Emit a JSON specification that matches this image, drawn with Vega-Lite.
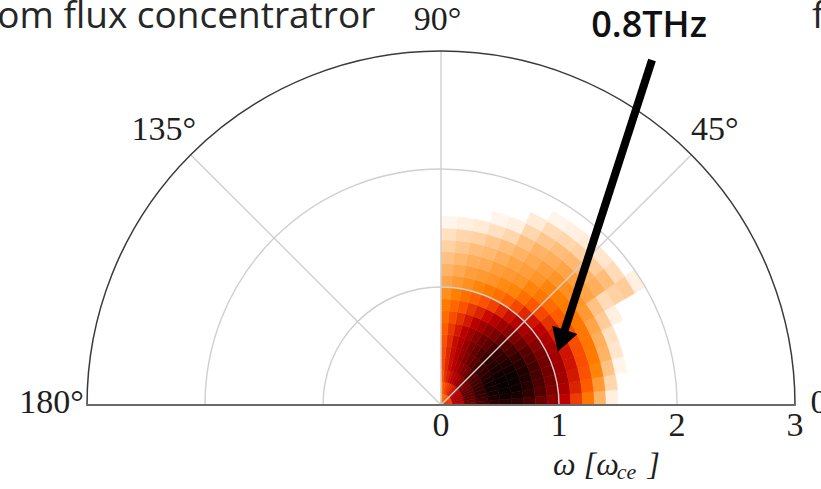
{
  "$schema": "https://vega.github.io/schema/vega-lite/v6.json",
  "width": 821,
  "height": 489,
  "autosize": {"type": "none"},
  "padding": 0,
  "background": "white",
  "config": {"view": {"stroke": null}},
  "datasets": {
    "cells": [
      {"a":0,"b":5,"r":0,"s":0.1,"v":0.34},{"a":0,"b":5,"r":0.1,"s":0.2,"v":0.5},{"a":0,"b":5,"r":0.2,"s":0.3,"v":0.7},{"a":0,"b":5,"r":0.3,"s":0.4,"v":0.8},{"a":0,"b":5,"r":0.4,"s":0.5,"v":0.87},{"a":0,"b":5,"r":0.5,"s":0.6,"v":0.9},{"a":0,"b":5,"r":0.6,"s":0.7,"v":0.88},{"a":0,"b":5,"r":0.7,"s":0.8,"v":0.82},{"a":0,"b":5,"r":0.8,"s":0.9,"v":0.72},{"a":0,"b":5,"r":0.9,"s":1.0,"v":0.62},{"a":0,"b":5,"r":1.0,"s":1.1,"v":0.5},{"a":0,"b":5,"r":1.1,"s":1.2,"v":0.38},{"a":0,"b":5,"r":1.2,"s":1.3,"v":0.27},{"a":0,"b":5,"r":1.3,"s":1.4,"v":0.15},{"a":0,"b":5,"r":1.4,"s":1.5,"v":0.03},
      {"a":5,"b":10,"r":0,"s":0.1,"v":0.36},{"a":5,"b":10,"r":0.1,"s":0.2,"v":0.54},{"a":5,"b":10,"r":0.2,"s":0.3,"v":0.73},{"a":5,"b":10,"r":0.3,"s":0.4,"v":0.84},{"a":5,"b":10,"r":0.4,"s":0.5,"v":0.92},{"a":5,"b":10,"r":0.5,"s":0.6,"v":0.95},{"a":5,"b":10,"r":0.6,"s":0.7,"v":0.94},{"a":5,"b":10,"r":0.7,"s":0.8,"v":0.88},{"a":5,"b":10,"r":0.8,"s":0.9,"v":0.78},{"a":5,"b":10,"r":0.9,"s":1.0,"v":0.67},{"a":5,"b":10,"r":1.0,"s":1.1,"v":0.55},{"a":5,"b":10,"r":1.1,"s":1.2,"v":0.43},{"a":5,"b":10,"r":1.2,"s":1.3,"v":0.32},{"a":5,"b":10,"r":1.3,"s":1.4,"v":0.2},{"a":5,"b":10,"r":1.4,"s":1.5,"v":0.08},
      {"a":10,"b":15,"r":0,"s":0.1,"v":0.38},{"a":10,"b":15,"r":0.1,"s":0.2,"v":0.56},{"a":10,"b":15,"r":0.2,"s":0.3,"v":0.75},{"a":10,"b":15,"r":0.3,"s":0.4,"v":0.86},{"a":10,"b":15,"r":0.4,"s":0.5,"v":0.94},{"a":10,"b":15,"r":0.5,"s":0.6,"v":0.97},{"a":10,"b":15,"r":0.6,"s":0.7,"v":0.96},{"a":10,"b":15,"r":0.7,"s":0.8,"v":0.9},{"a":10,"b":15,"r":0.8,"s":0.9,"v":0.8},{"a":10,"b":15,"r":0.9,"s":1.0,"v":0.69},{"a":10,"b":15,"r":1.0,"s":1.1,"v":0.57},{"a":10,"b":15,"r":1.1,"s":1.2,"v":0.45},{"a":10,"b":15,"r":1.2,"s":1.3,"v":0.34},{"a":10,"b":15,"r":1.3,"s":1.4,"v":0.24},{"a":10,"b":15,"r":1.4,"s":1.5,"v":0.12},{"a":10,"b":15,"r":1.5,"s":1.6,"v":0.02},
      {"a":15,"b":20,"r":0,"s":0.1,"v":0.39},{"a":15,"b":20,"r":0.1,"s":0.2,"v":0.56},{"a":15,"b":20,"r":0.2,"s":0.3,"v":0.76},{"a":15,"b":20,"r":0.3,"s":0.4,"v":0.87},{"a":15,"b":20,"r":0.4,"s":0.5,"v":0.95},{"a":15,"b":20,"r":0.5,"s":0.6,"v":0.98},{"a":15,"b":20,"r":0.6,"s":0.7,"v":0.97},{"a":15,"b":20,"r":0.7,"s":0.8,"v":0.92},{"a":15,"b":20,"r":0.8,"s":0.9,"v":0.82},{"a":15,"b":20,"r":0.9,"s":1.0,"v":0.7},{"a":15,"b":20,"r":1.0,"s":1.1,"v":0.58},{"a":15,"b":20,"r":1.1,"s":1.2,"v":0.46},{"a":15,"b":20,"r":1.2,"s":1.3,"v":0.35},{"a":15,"b":20,"r":1.3,"s":1.4,"v":0.26},{"a":15,"b":20,"r":1.4,"s":1.5,"v":0.15},{"a":15,"b":20,"r":1.5,"s":1.6,"v":0.05},
      {"a":20,"b":25,"r":0,"s":0.1,"v":0.39},{"a":20,"b":25,"r":0.1,"s":0.2,"v":0.56},{"a":20,"b":25,"r":0.2,"s":0.3,"v":0.76},{"a":20,"b":25,"r":0.3,"s":0.4,"v":0.87},{"a":20,"b":25,"r":0.4,"s":0.5,"v":0.95},{"a":20,"b":25,"r":0.5,"s":0.6,"v":0.98},{"a":20,"b":25,"r":0.6,"s":0.7,"v":0.97},{"a":20,"b":25,"r":0.7,"s":0.8,"v":0.92},{"a":20,"b":25,"r":0.8,"s":0.9,"v":0.82},{"a":20,"b":25,"r":0.9,"s":1.0,"v":0.7},{"a":20,"b":25,"r":1.0,"s":1.1,"v":0.58},{"a":20,"b":25,"r":1.1,"s":1.2,"v":0.46},{"a":20,"b":25,"r":1.2,"s":1.3,"v":0.35},{"a":20,"b":25,"r":1.3,"s":1.4,"v":0.27},{"a":20,"b":25,"r":1.4,"s":1.5,"v":0.16},{"a":20,"b":25,"r":1.5,"s":1.6,"v":0.06},
      {"a":25,"b":30,"r":0,"s":0.1,"v":0.39},{"a":25,"b":30,"r":0.1,"s":0.2,"v":0.56},{"a":25,"b":30,"r":0.2,"s":0.3,"v":0.75},{"a":25,"b":30,"r":0.3,"s":0.4,"v":0.85},{"a":25,"b":30,"r":0.4,"s":0.5,"v":0.93},{"a":25,"b":30,"r":0.5,"s":0.6,"v":0.96},{"a":25,"b":30,"r":0.6,"s":0.7,"v":0.95},{"a":25,"b":30,"r":0.7,"s":0.8,"v":0.9},{"a":25,"b":30,"r":0.8,"s":0.9,"v":0.8},{"a":25,"b":30,"r":0.9,"s":1.0,"v":0.68},{"a":25,"b":30,"r":1.0,"s":1.1,"v":0.56},{"a":25,"b":30,"r":1.1,"s":1.2,"v":0.45},{"a":25,"b":30,"r":1.2,"s":1.3,"v":0.35},{"a":25,"b":30,"r":1.3,"s":1.4,"v":0.27},{"a":25,"b":30,"r":1.4,"s":1.5,"v":0.18},{"a":25,"b":30,"r":1.5,"s":1.6,"v":0.1},{"a":25,"b":30,"r":1.6,"s":1.7,"v":0.03},
      {"a":30,"b":35,"r":0,"s":0.1,"v":0.38},{"a":30,"b":35,"r":0.1,"s":0.2,"v":0.54},{"a":30,"b":35,"r":0.2,"s":0.3,"v":0.72},{"a":30,"b":35,"r":0.3,"s":0.4,"v":0.82},{"a":30,"b":35,"r":0.4,"s":0.5,"v":0.9},{"a":30,"b":35,"r":0.5,"s":0.6,"v":0.93},{"a":30,"b":35,"r":0.6,"s":0.7,"v":0.92},{"a":30,"b":35,"r":0.7,"s":0.8,"v":0.87},{"a":30,"b":35,"r":0.8,"s":0.9,"v":0.77},{"a":30,"b":35,"r":0.9,"s":1.0,"v":0.65},{"a":30,"b":35,"r":1.0,"s":1.1,"v":0.54},{"a":30,"b":35,"r":1.1,"s":1.2,"v":0.43},{"a":30,"b":35,"r":1.2,"s":1.3,"v":0.34},{"a":30,"b":35,"r":1.3,"s":1.4,"v":0.27},{"a":30,"b":35,"r":1.4,"s":1.5,"v":0.2},{"a":30,"b":35,"r":1.5,"s":1.6,"v":0.12},{"a":30,"b":35,"r":1.6,"s":1.7,"v":0.07},{"a":30,"b":35,"r":1.7,"s":1.8,"v":0.09},{"a":30,"b":35,"r":1.8,"s":1.9,"v":0.1},{"a":30,"b":35,"r":1.9,"s":2.0,"v":0.03},
      {"a":35,"b":40,"r":0,"s":0.1,"v":0.37},{"a":35,"b":40,"r":0.1,"s":0.2,"v":0.52},{"a":35,"b":40,"r":0.2,"s":0.3,"v":0.7},{"a":35,"b":40,"r":0.3,"s":0.4,"v":0.8},{"a":35,"b":40,"r":0.4,"s":0.5,"v":0.87},{"a":35,"b":40,"r":0.5,"s":0.6,"v":0.9},{"a":35,"b":40,"r":0.6,"s":0.7,"v":0.88},{"a":35,"b":40,"r":0.7,"s":0.8,"v":0.82},{"a":35,"b":40,"r":0.8,"s":0.9,"v":0.72},{"a":35,"b":40,"r":0.9,"s":1.0,"v":0.6},{"a":35,"b":40,"r":1.0,"s":1.1,"v":0.5},{"a":35,"b":40,"r":1.1,"s":1.2,"v":0.4},{"a":35,"b":40,"r":1.2,"s":1.3,"v":0.32},{"a":35,"b":40,"r":1.3,"s":1.4,"v":0.26},{"a":35,"b":40,"r":1.4,"s":1.5,"v":0.21},{"a":35,"b":40,"r":1.5,"s":1.6,"v":0.18},{"a":35,"b":40,"r":1.6,"s":1.7,"v":0.16},{"a":35,"b":40,"r":1.7,"s":1.8,"v":0.13},{"a":35,"b":40,"r":1.8,"s":1.9,"v":0.07},
      {"a":40,"b":45,"r":0,"s":0.1,"v":0.36},{"a":40,"b":45,"r":0.1,"s":0.2,"v":0.51},{"a":40,"b":45,"r":0.2,"s":0.3,"v":0.68},{"a":40,"b":45,"r":0.3,"s":0.4,"v":0.78},{"a":40,"b":45,"r":0.4,"s":0.5,"v":0.85},{"a":40,"b":45,"r":0.5,"s":0.6,"v":0.88},{"a":40,"b":45,"r":0.6,"s":0.7,"v":0.86},{"a":40,"b":45,"r":0.7,"s":0.8,"v":0.78},{"a":40,"b":45,"r":0.8,"s":0.9,"v":0.67},{"a":40,"b":45,"r":0.9,"s":1.0,"v":0.56},{"a":40,"b":45,"r":1.0,"s":1.1,"v":0.46},{"a":40,"b":45,"r":1.1,"s":1.2,"v":0.36},{"a":40,"b":45,"r":1.2,"s":1.3,"v":0.29},{"a":40,"b":45,"r":1.3,"s":1.4,"v":0.25},{"a":40,"b":45,"r":1.4,"s":1.5,"v":0.22},{"a":40,"b":45,"r":1.5,"s":1.6,"v":0.19},{"a":40,"b":45,"r":1.6,"s":1.7,"v":0.15},{"a":40,"b":45,"r":1.7,"s":1.8,"v":0.1},{"a":40,"b":45,"r":1.8,"s":1.9,"v":0.05},
      {"a":45,"b":50,"r":0,"s":0.1,"v":0.35},{"a":45,"b":50,"r":0.1,"s":0.2,"v":0.49},{"a":45,"b":50,"r":0.2,"s":0.3,"v":0.65},{"a":45,"b":50,"r":0.3,"s":0.4,"v":0.75},{"a":45,"b":50,"r":0.4,"s":0.5,"v":0.82},{"a":45,"b":50,"r":0.5,"s":0.6,"v":0.84},{"a":45,"b":50,"r":0.6,"s":0.7,"v":0.82},{"a":45,"b":50,"r":0.7,"s":0.8,"v":0.74},{"a":45,"b":50,"r":0.8,"s":0.9,"v":0.63},{"a":45,"b":50,"r":0.9,"s":1.0,"v":0.52},{"a":45,"b":50,"r":1.0,"s":1.1,"v":0.42},{"a":45,"b":50,"r":1.1,"s":1.2,"v":0.33},{"a":45,"b":50,"r":1.2,"s":1.3,"v":0.27},{"a":45,"b":50,"r":1.3,"s":1.4,"v":0.24},{"a":45,"b":50,"r":1.4,"s":1.5,"v":0.21},{"a":45,"b":50,"r":1.5,"s":1.6,"v":0.18},{"a":45,"b":50,"r":1.6,"s":1.7,"v":0.14},{"a":45,"b":50,"r":1.7,"s":1.8,"v":0.09},{"a":45,"b":50,"r":1.8,"s":1.9,"v":0.04},
      {"a":50,"b":55,"r":0,"s":0.1,"v":0.34},{"a":50,"b":55,"r":0.1,"s":0.2,"v":0.46},{"a":50,"b":55,"r":0.2,"s":0.3,"v":0.62},{"a":50,"b":55,"r":0.3,"s":0.4,"v":0.71},{"a":50,"b":55,"r":0.4,"s":0.5,"v":0.77},{"a":50,"b":55,"r":0.5,"s":0.6,"v":0.79},{"a":50,"b":55,"r":0.6,"s":0.7,"v":0.76},{"a":50,"b":55,"r":0.7,"s":0.8,"v":0.68},{"a":50,"b":55,"r":0.8,"s":0.9,"v":0.58},{"a":50,"b":55,"r":0.9,"s":1.0,"v":0.47},{"a":50,"b":55,"r":1.0,"s":1.1,"v":0.36},{"a":50,"b":55,"r":1.1,"s":1.2,"v":0.28},{"a":50,"b":55,"r":1.2,"s":1.3,"v":0.24},{"a":50,"b":55,"r":1.3,"s":1.4,"v":0.21},{"a":50,"b":55,"r":1.4,"s":1.5,"v":0.19},{"a":50,"b":55,"r":1.5,"s":1.6,"v":0.16},{"a":50,"b":55,"r":1.6,"s":1.7,"v":0.13},{"a":50,"b":55,"r":1.7,"s":1.8,"v":0.08},{"a":50,"b":55,"r":1.8,"s":1.9,"v":0.03},
      {"a":55,"b":60,"r":0,"s":0.1,"v":0.33},{"a":55,"b":60,"r":0.1,"s":0.2,"v":0.44},{"a":55,"b":60,"r":0.2,"s":0.3,"v":0.58},{"a":55,"b":60,"r":0.3,"s":0.4,"v":0.66},{"a":55,"b":60,"r":0.4,"s":0.5,"v":0.72},{"a":55,"b":60,"r":0.5,"s":0.6,"v":0.74},{"a":55,"b":60,"r":0.6,"s":0.7,"v":0.71},{"a":55,"b":60,"r":0.7,"s":0.8,"v":0.63},{"a":55,"b":60,"r":0.8,"s":0.9,"v":0.53},{"a":55,"b":60,"r":0.9,"s":1.0,"v":0.42},{"a":55,"b":60,"r":1.0,"s":1.1,"v":0.31},{"a":55,"b":60,"r":1.1,"s":1.2,"v":0.24},{"a":55,"b":60,"r":1.2,"s":1.3,"v":0.21},{"a":55,"b":60,"r":1.3,"s":1.4,"v":0.19},{"a":55,"b":60,"r":1.4,"s":1.5,"v":0.17},{"a":55,"b":60,"r":1.5,"s":1.6,"v":0.15},{"a":55,"b":60,"r":1.6,"s":1.7,"v":0.11},{"a":55,"b":60,"r":1.7,"s":1.8,"v":0.07},{"a":55,"b":60,"r":1.8,"s":1.9,"v":0.02},
      {"a":60,"b":65,"r":0,"s":0.1,"v":0.32},{"a":60,"b":65,"r":0.1,"s":0.2,"v":0.42},{"a":60,"b":65,"r":0.2,"s":0.3,"v":0.54},{"a":60,"b":65,"r":0.3,"s":0.4,"v":0.61},{"a":60,"b":65,"r":0.4,"s":0.5,"v":0.66},{"a":60,"b":65,"r":0.5,"s":0.6,"v":0.68},{"a":60,"b":65,"r":0.6,"s":0.7,"v":0.65},{"a":60,"b":65,"r":0.7,"s":0.8,"v":0.57},{"a":60,"b":65,"r":0.8,"s":0.9,"v":0.48},{"a":60,"b":65,"r":0.9,"s":1.0,"v":0.37},{"a":60,"b":65,"r":1.0,"s":1.1,"v":0.28},{"a":60,"b":65,"r":1.1,"s":1.2,"v":0.23},{"a":60,"b":65,"r":1.2,"s":1.3,"v":0.2},{"a":60,"b":65,"r":1.3,"s":1.4,"v":0.18},{"a":60,"b":65,"r":1.4,"s":1.5,"v":0.15},{"a":60,"b":65,"r":1.5,"s":1.6,"v":0.12},{"a":60,"b":65,"r":1.6,"s":1.7,"v":0.08},{"a":60,"b":65,"r":1.7,"s":1.8,"v":0.04},
      {"a":65,"b":70,"r":0,"s":0.1,"v":0.31},{"a":65,"b":70,"r":0.1,"s":0.2,"v":0.4},{"a":65,"b":70,"r":0.2,"s":0.3,"v":0.5},{"a":65,"b":70,"r":0.3,"s":0.4,"v":0.56},{"a":65,"b":70,"r":0.4,"s":0.5,"v":0.6},{"a":65,"b":70,"r":0.5,"s":0.6,"v":0.61},{"a":65,"b":70,"r":0.6,"s":0.7,"v":0.58},{"a":65,"b":70,"r":0.7,"s":0.8,"v":0.51},{"a":65,"b":70,"r":0.8,"s":0.9,"v":0.43},{"a":65,"b":70,"r":0.9,"s":1.0,"v":0.34},{"a":65,"b":70,"r":1.0,"s":1.1,"v":0.26},{"a":65,"b":70,"r":1.1,"s":1.2,"v":0.21},{"a":65,"b":70,"r":1.2,"s":1.3,"v":0.19},{"a":65,"b":70,"r":1.3,"s":1.4,"v":0.16},{"a":65,"b":70,"r":1.4,"s":1.5,"v":0.13},{"a":65,"b":70,"r":1.5,"s":1.6,"v":0.08},{"a":65,"b":70,"r":1.6,"s":1.7,"v":0.03},
      {"a":70,"b":75,"r":0,"s":0.1,"v":0.3},{"a":70,"b":75,"r":0.1,"s":0.2,"v":0.38},{"a":70,"b":75,"r":0.2,"s":0.3,"v":0.47},{"a":70,"b":75,"r":0.3,"s":0.4,"v":0.51},{"a":70,"b":75,"r":0.4,"s":0.5,"v":0.54},{"a":70,"b":75,"r":0.5,"s":0.6,"v":0.54},{"a":70,"b":75,"r":0.6,"s":0.7,"v":0.51},{"a":70,"b":75,"r":0.7,"s":0.8,"v":0.45},{"a":70,"b":75,"r":0.8,"s":0.9,"v":0.39},{"a":70,"b":75,"r":0.9,"s":1.0,"v":0.31},{"a":70,"b":75,"r":1.0,"s":1.1,"v":0.24},{"a":70,"b":75,"r":1.1,"s":1.2,"v":0.2},{"a":70,"b":75,"r":1.2,"s":1.3,"v":0.17},{"a":70,"b":75,"r":1.3,"s":1.4,"v":0.14},{"a":70,"b":75,"r":1.4,"s":1.5,"v":0.11},{"a":70,"b":75,"r":1.5,"s":1.6,"v":0.06},{"a":70,"b":75,"r":1.6,"s":1.7,"v":0.02},
      {"a":75,"b":80,"r":0,"s":0.1,"v":0.29},{"a":75,"b":80,"r":0.1,"s":0.2,"v":0.36},{"a":75,"b":80,"r":0.2,"s":0.3,"v":0.44},{"a":75,"b":80,"r":0.3,"s":0.4,"v":0.47},{"a":75,"b":80,"r":0.4,"s":0.5,"v":0.48},{"a":75,"b":80,"r":0.5,"s":0.6,"v":0.48},{"a":75,"b":80,"r":0.6,"s":0.7,"v":0.45},{"a":75,"b":80,"r":0.7,"s":0.8,"v":0.4},{"a":75,"b":80,"r":0.8,"s":0.9,"v":0.34},{"a":75,"b":80,"r":0.9,"s":1.0,"v":0.28},{"a":75,"b":80,"r":1.0,"s":1.1,"v":0.22},{"a":75,"b":80,"r":1.1,"s":1.2,"v":0.19},{"a":75,"b":80,"r":1.2,"s":1.3,"v":0.16},{"a":75,"b":80,"r":1.3,"s":1.4,"v":0.13},{"a":75,"b":80,"r":1.4,"s":1.5,"v":0.09},{"a":75,"b":80,"r":1.5,"s":1.6,"v":0.04},
      {"a":80,"b":85,"r":0,"s":0.1,"v":0.27},{"a":80,"b":85,"r":0.1,"s":0.2,"v":0.33},{"a":80,"b":85,"r":0.2,"s":0.3,"v":0.4},{"a":80,"b":85,"r":0.3,"s":0.4,"v":0.42},{"a":80,"b":85,"r":0.4,"s":0.5,"v":0.42},{"a":80,"b":85,"r":0.5,"s":0.6,"v":0.41},{"a":80,"b":85,"r":0.6,"s":0.7,"v":0.39},{"a":80,"b":85,"r":0.7,"s":0.8,"v":0.35},{"a":80,"b":85,"r":0.8,"s":0.9,"v":0.3},{"a":80,"b":85,"r":0.9,"s":1.0,"v":0.25},{"a":80,"b":85,"r":1.0,"s":1.1,"v":0.2},{"a":80,"b":85,"r":1.1,"s":1.2,"v":0.17},{"a":80,"b":85,"r":1.2,"s":1.3,"v":0.14},{"a":80,"b":85,"r":1.3,"s":1.4,"v":0.11},{"a":80,"b":85,"r":1.4,"s":1.5,"v":0.08},{"a":80,"b":85,"r":1.5,"s":1.6,"v":0.03},
      {"a":85,"b":90,"r":0,"s":0.1,"v":0.24},{"a":85,"b":90,"r":0.1,"s":0.2,"v":0.29},{"a":85,"b":90,"r":0.2,"s":0.3,"v":0.33},{"a":85,"b":90,"r":0.3,"s":0.4,"v":0.35},{"a":85,"b":90,"r":0.4,"s":0.5,"v":0.35},{"a":85,"b":90,"r":0.5,"s":0.6,"v":0.34},{"a":85,"b":90,"r":0.6,"s":0.7,"v":0.32},{"a":85,"b":90,"r":0.7,"s":0.8,"v":0.29},{"a":85,"b":90,"r":0.8,"s":0.9,"v":0.26},{"a":85,"b":90,"r":0.9,"s":1.0,"v":0.22},{"a":85,"b":90,"r":1.0,"s":1.1,"v":0.18},{"a":85,"b":90,"r":1.1,"s":1.2,"v":0.15},{"a":85,"b":90,"r":1.2,"s":1.3,"v":0.12},{"a":85,"b":90,"r":1.3,"s":1.4,"v":0.09},{"a":85,"b":90,"r":1.4,"s":1.5,"v":0.06},{"a":85,"b":90,"r":1.5,"s":1.6,"v":0.02}
    ],
    "rings": [{"a":0,"b":180,"s":1},{"a":0,"b":180,"s":2}],
    "outer": [{"a":0,"b":180,"s":3}],
    "spokes": [{"x0":0,"y0":0,"x":2.1213,"y":2.1213},{"x0":0,"y0":0,"x":0,"y":3},{"x0":0,"y0":0,"x":-2.1213,"y":2.1213}],
    "base": [{"x":-3,"y":0,"x2":3,"y2":0}],
    "angleLabels": [
      {"x":-3.30,"y":0.02,"t":"180°"},
      {"x":-2.35,"y":2.33,"t":"135°"},
      {"x":-0.03,"y":3.26,"t":"90°"},
      {"x":2.32,"y":2.33,"t":"45°"},
      {"x":3.26,"y":0.02,"t":"0°"},
      {"x":0,"y":-0.18,"t":"0"},
      {"x":1,"y":-0.18,"t":"1"},
      {"x":2,"y":-0.18,"t":"2"},
      {"x":3,"y":-0.18,"t":"3"}
    ],
    "titleMain": [{"x":0.95,"y":-0.51,"t":"ω [ω"},{"x":1.75,"y":-0.51,"t":"]"}],
    "titleSub": [{"x":1.49,"y":-0.57,"t":"ce"}],
    "caption": [{"x":-3.76,"y":3.195,"t":"om flux concentratror"},{"x":3.144,"y":3.195,"t":"f"}],
    "callout": [{"x":1.763,"y":3.12,"t":"0.8THz"}],
    "arrowShaft": [{"x":1.788,"y":2.924,"x2":1.019,"y2":0.544}],
    "arrowHead": [{"x":1.019,"y":0.544}]
  },
  "layer": [
    {
      "data": {"name": "cells"},
      "mark": {"type": "arc", "strokeWidth": 0.6},
      "encoding": {
        "x": {"datum": 0, "type": "quantitative", "scale": {"domain": [-3.737, 3.22], "nice": false, "zero": false}, "axis": null},
        "y": {"datum": 0, "type": "quantitative", "scale": {"domain": [-0.712, 3.432], "nice": false, "zero": false}, "axis": null},
        "theta": {"field": "a", "type": "quantitative", "stack": null, "scale": {"domain": [0, 180], "range": [1.5707963, -1.5707963]}},
        "theta2": {"field": "b"},
        "radius": {"field": "s", "type": "quantitative", "scale": {"type": "linear", "domain": [0, 3], "range": [0, 354], "zero": true}},
        "radius2": {"field": "r"},
        "color": {"field": "v", "type": "quantitative", "legend": null, "scale": {"domain": [0, 0.25, 0.333, 0.5, 1], "range": ["#ffffff", "#ff8000", "#ff5500", "#bf0000", "#000000"], "interpolate": "rgb"}},
        "stroke": {"field": "v", "type": "quantitative", "legend": null, "scale": {"domain": [0, 0.25, 0.333, 0.5, 1], "range": ["#ffffff", "#ff8000", "#ff5500", "#bf0000", "#000000"], "interpolate": "rgb"}}
      }
    },
    {
      "data": {"name": "rings"},
      "mark": {"type": "arc", "filled": false, "stroke": "#cfcfcf", "strokeWidth": 1.4},
      "encoding": {
        "x": {"datum": 0, "type": "quantitative", "scale": {"domain": [-3.737, 3.22], "nice": false, "zero": false}, "axis": null},
        "y": {"datum": 0, "type": "quantitative", "scale": {"domain": [-0.712, 3.432], "nice": false, "zero": false}, "axis": null},
        "theta": {"field": "a", "type": "quantitative", "stack": null, "scale": {"domain": [0, 180], "range": [1.5707963, -1.5707963]}},
        "theta2": {"field": "b"},
        "radius": {"field": "s", "type": "quantitative", "scale": {"type": "linear", "domain": [0, 3], "range": [0, 354], "zero": true}}
      }
    },
    {
      "data": {"name": "spokes"},
      "mark": {"type": "rule", "stroke": "#cfcfcf", "strokeWidth": 1.4},
      "encoding": {
        "x": {"field": "x0", "type": "quantitative", "scale": {"domain": [-3.737, 3.22], "nice": false, "zero": false}, "axis": null},
        "y": {"field": "y0", "type": "quantitative", "scale": {"domain": [-0.712, 3.432], "nice": false, "zero": false}, "axis": null},
        "x2": {"field": "x"},
        "y2": {"field": "y"}
      }
    },
    {
      "data": {"name": "outer"},
      "mark": {"type": "arc", "filled": false, "stroke": "#3a3a3a", "strokeWidth": 1.5},
      "encoding": {
        "x": {"datum": 0, "type": "quantitative", "scale": {"domain": [-3.737, 3.22], "nice": false, "zero": false}, "axis": null},
        "y": {"datum": 0, "type": "quantitative", "scale": {"domain": [-0.712, 3.432], "nice": false, "zero": false}, "axis": null},
        "theta": {"field": "a", "type": "quantitative", "stack": null, "scale": {"domain": [0, 180], "range": [1.5707963, -1.5707963]}},
        "theta2": {"field": "b"},
        "radius": {"field": "s", "type": "quantitative", "scale": {"type": "linear", "domain": [0, 3], "range": [0, 354], "zero": true}}
      }
    },
    {
      "data": {"name": "base"},
      "mark": {"type": "rule", "stroke": "#6a6a6a", "strokeWidth": 1.8},
      "encoding": {
        "x": {"field": "x", "type": "quantitative", "scale": {"domain": [-3.737, 3.22], "nice": false, "zero": false}, "axis": null},
        "y": {"field": "y", "type": "quantitative", "scale": {"domain": [-0.712, 3.432], "nice": false, "zero": false}, "axis": null},
        "x2": {"field": "x2"},
        "y2": {"field": "y2"}
      }
    },
    {
      "data": {"name": "angleLabels"},
      "mark": {"type": "text", "font": "Liberation Serif", "fontSize": 34, "color": "#1e1e1e", "align": "center", "baseline": "middle"},
      "encoding": {
        "x": {"field": "x", "type": "quantitative", "scale": {"domain": [-3.737, 3.22], "nice": false, "zero": false}, "axis": null},
        "y": {"field": "y", "type": "quantitative", "scale": {"domain": [-0.712, 3.432], "nice": false, "zero": false}, "axis": null},
        "text": {"field": "t"}
      }
    },
    {
      "data": {"name": "titleMain"},
      "mark": {"type": "text", "font": "Liberation Serif", "fontSize": 32, "fontStyle": "italic", "color": "#1e1e1e", "align": "left", "baseline": "middle"},
      "encoding": {
        "x": {"field": "x", "type": "quantitative", "scale": {"domain": [-3.737, 3.22], "nice": false, "zero": false}, "axis": null},
        "y": {"field": "y", "type": "quantitative", "scale": {"domain": [-0.712, 3.432], "nice": false, "zero": false}, "axis": null},
        "text": {"field": "t"}
      }
    },
    {
      "data": {"name": "titleSub"},
      "mark": {"type": "text", "font": "Liberation Serif", "fontSize": 22, "fontStyle": "italic", "color": "#1e1e1e", "align": "left", "baseline": "middle"},
      "encoding": {
        "x": {"field": "x", "type": "quantitative", "scale": {"domain": [-3.737, 3.22], "nice": false, "zero": false}, "axis": null},
        "y": {"field": "y", "type": "quantitative", "scale": {"domain": [-0.712, 3.432], "nice": false, "zero": false}, "axis": null},
        "text": {"field": "t"}
      }
    },
    {
      "data": {"name": "caption"},
      "mark": {"type": "text", "font": "Open Sans", "fontSize": 37, "color": "#262626", "align": "left", "baseline": "alphabetic"},
      "encoding": {
        "x": {"field": "x", "type": "quantitative", "scale": {"domain": [-3.737, 3.22], "nice": false, "zero": false}, "axis": null},
        "y": {"field": "y", "type": "quantitative", "scale": {"domain": [-0.712, 3.432], "nice": false, "zero": false}, "axis": null},
        "text": {"field": "t"}
      }
    },
    {
      "data": {"name": "callout"},
      "mark": {"type": "text", "font": "Open Sans", "fontSize": 36, "fontWeight": 600, "color": "#111111", "align": "center", "baseline": "alphabetic"},
      "encoding": {
        "x": {"field": "x", "type": "quantitative", "scale": {"domain": [-3.737, 3.22], "nice": false, "zero": false}, "axis": null},
        "y": {"field": "y", "type": "quantitative", "scale": {"domain": [-0.712, 3.432], "nice": false, "zero": false}, "axis": null},
        "text": {"field": "t"}
      }
    },
    {
      "data": {"name": "arrowShaft"},
      "mark": {"type": "rule", "stroke": "#000000", "strokeWidth": 8, "strokeCap": "butt"},
      "encoding": {
        "x": {"field": "x", "type": "quantitative", "scale": {"domain": [-3.737, 3.22], "nice": false, "zero": false}, "axis": null},
        "y": {"field": "y", "type": "quantitative", "scale": {"domain": [-0.712, 3.432], "nice": false, "zero": false}, "axis": null},
        "x2": {"field": "x2"},
        "y2": {"field": "y2"}
      }
    },
    {
      "data": {"name": "arrowHead"},
      "mark": {"type": "point", "shape": "triangle-down", "filled": true, "color": "#000000", "opacity": 1, "size": 700, "angle": 18},
      "encoding": {
        "x": {"field": "x", "type": "quantitative", "scale": {"domain": [-3.737, 3.22], "nice": false, "zero": false}, "axis": null},
        "y": {"field": "y", "type": "quantitative", "scale": {"domain": [-0.712, 3.432], "nice": false, "zero": false}, "axis": null}
      }
    }
  ]
}
